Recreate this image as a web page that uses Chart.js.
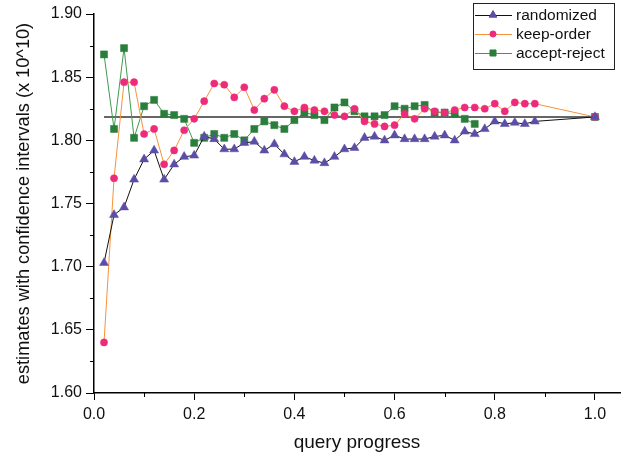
<!DOCTYPE html>
<html>
<head>
<meta charset="utf-8">
<script src="https://cdn.jsdelivr.net/npm/chart.js@4/dist/chart.umd.min.js"></script>
<style>
  html, body { margin: 0; padding: 0; background: #fff; }
  #wrap { width: 628px; height: 454px; position: relative; }
</style>
</head>
<body>
<div id="wrap"><canvas id="estChart" width="628" height="454"></canvas></div>
<script>
// query progress (fraction of queries processed)
const progress = [0.02, 0.04, 0.06, 0.08, 0.10, 0.12, 0.14, 0.16, 0.18, 0.20,
    0.22, 0.24, 0.26, 0.28, 0.30, 0.32, 0.34, 0.36, 0.38, 0.40,
    0.42, 0.44, 0.46, 0.48, 0.50, 0.52, 0.54, 0.56, 0.58, 0.60,
    0.62, 0.64, 0.66, 0.68, 0.70, 0.72, 0.74, 0.76, 0.78, 0.80,
    0.82, 0.84, 0.86, 0.88, 1.00];

const randomized = [1.703, 1.741, 1.747, 1.769, 1.785, 1.792, 1.769, 1.781, 1.787, 1.788,
    1.803, 1.801, 1.793, 1.793, 1.798, 1.799, 1.792, 1.797, 1.789, 1.783,
    1.787, 1.784, 1.782, 1.787, 1.793, 1.794, 1.802, 1.803, 1.800, 1.804,
    1.801, 1.801, 1.801, 1.803, 1.804, 1.800, 1.807, 1.805, 1.809, 1.815,
    1.813, 1.814, 1.813, 1.815, 1.8185];

const keepOrder = [1.640, 1.770, 1.846, 1.846, 1.805, 1.809, 1.781, 1.792, 1.808, 1.817,
    1.831, 1.845, 1.844, 1.834, 1.842, 1.824, 1.833, 1.840, 1.827, 1.823,
    1.826, 1.824, 1.823, 1.820, 1.819, 1.825, 1.815, 1.813, 1.811, 1.812,
    1.821, 1.817, 1.825, 1.823, 1.822, 1.824, 1.826, 1.826, 1.825, 1.829,
    1.823, 1.830, 1.829, 1.829, 1.8185];

const acceptReject = [1.868, 1.809, 1.873, 1.802, 1.827, 1.832, 1.821, 1.820, 1.817, 1.798,
    1.802, 1.805, 1.802, 1.805, 1.800, 1.809, 1.815, 1.812, 1.809, 1.816,
    1.822, 1.820, 1.816, 1.826, 1.830, 1.823, 1.819, 1.819, 1.820, 1.827,
    1.825, 1.827, 1.828, 1.822, 1.822, 1.821, 1.817, 1.813, null, null,
    null, null, null, null, 1.8185];

// exact value line
const exactX = [0.02, 1.00];
const exactValue = 1.8185;

const xTicks = [0, 0.2, 0.4, 0.6, 0.8, 1.0];
const xMinorTicks = [0.1, 0.3, 0.5, 0.7, 0.9];
const yMinorTicks = [1.625, 1.675, 1.725, 1.775, 1.825, 1.875];

const FONT = "'Liberation Sans', Arial, sans-serif";

const toPoints = (xs, ys) => xs.map((x, i) => ({ x: x, y: ys[i] }));

const series = [
    { label: 'randomized', data: randomized, line: '#111111', mark: '#5b4ea6', style: 'triangle', radius: 5.2 },
    { label: 'keep-order', data: keepOrder, line: '#f7923a', mark: '#ee2b7b', style: 'circle', radius: 3.6 },
    { label: 'accept-reject', data: acceptReject, line: '#3f9a50', mark: '#2b7d3c', style: 'rect', radius: 5 }
];

const datasets = series.map((s) => ({
    label: s.label,
    data: toPoints(progress, s.data),
    borderColor: s.line,
    borderWidth: 1,
    backgroundColor: s.mark,
    pointBackgroundColor: s.mark,
    pointBorderColor: s.mark,
    pointBorderWidth: 0.5,
    pointStyle: s.style,
    pointRadius: s.radius,
    spanGaps: false,
    tension: 0
}));

datasets.push({
    label: 'exact',
    data: exactX.map((x) => ({ x: x, y: exactValue })),
    borderColor: '#333333',
    borderWidth: 1.6,
    pointRadius: 0,
    order: 10
});

// minor ticks + boxed legend with line-and-marker keys
const extras = {
    id: 'extras',
    afterDraw(chart) {
        const ctx = chart.ctx;
        const xs = chart.scales.x;
        const ys = chart.scales.y;
        ctx.save();
        ctx.strokeStyle = '#000';
        ctx.lineWidth = 1;
        xMinorTicks.forEach((v) => {
            const px = Math.round(xs.getPixelForValue(v)) + 0.5;
            ctx.beginPath();
            ctx.moveTo(px, ys.bottom);
            ctx.lineTo(px, ys.bottom + 4);
            ctx.stroke();
        });
        yMinorTicks.forEach((v) => {
            const py = Math.round(ys.getPixelForValue(v)) + 0.5;
            ctx.beginPath();
            ctx.moveTo(xs.left - 4, py);
            ctx.lineTo(xs.left, py);
            ctx.stroke();
        });

        // legend
        const bx = 473, by = 3, bw = 141, bh = 66;
        ctx.fillStyle = '#fff';
        ctx.fillRect(bx, by, bw, bh);
        ctx.strokeStyle = '#222';
        ctx.lineWidth = 1;
        ctx.strokeRect(bx + 0.5, by + 0.5, bw, bh);
        ctx.font = '15.5px ' + FONT;
        ctx.textBaseline = 'middle';
        ctx.textAlign = 'left';
        series.forEach((s, i) => {
            const y = 15 + i * 19;
            ctx.strokeStyle = s.line;
            ctx.lineWidth = 1;
            ctx.beginPath();
            ctx.moveTo(bx + 2, y + 0.5);
            ctx.lineTo(bx + 39, y + 0.5);
            ctx.stroke();
            ctx.fillStyle = s.mark;
            ctx.strokeStyle = s.mark;
            Chart.helpers.drawPoint(ctx, { pointStyle: s.style, radius: s.radius * 0.85, borderWidth: 0.5 }, bx + 20, y);
            ctx.fillStyle = '#111';
            ctx.fillText(s.label, bx + 43, y + 1);
        });
        ctx.restore();
    }
};

new Chart(document.getElementById('estChart'), {
    type: 'line',
    data: { datasets: datasets },
    plugins: [extras],
    options: {
        responsive: false,
        animation: false,
        layout: { padding: { top: 14, right: 8, left: 0, bottom: 0 } },
        plugins: {
            legend: { display: false },
            tooltip: { enabled: false }
        },
        scales: {
            x: {
                type: 'linear',
                min: 0,
                max: 1.05,
                afterFit: (scale) => { scale.height = 61; },
                afterBuildTicks: (scale) => { scale.ticks = xTicks.map((v) => ({ value: v })); },
                border: { display: true, color: '#000', width: 1.5 },
                grid: { drawOnChartArea: false, drawTicks: true, tickLength: 7, tickColor: '#000', tickWidth: 1 },
                ticks: {
                    padding: 5,
                    color: '#111',
                    font: { family: FONT, size: 16 },
                    maxRotation: 0,
                    callback: (v) => v.toFixed(1)
                },
                title: {
                    display: true,
                    text: 'query progress',
                    color: '#111',
                    font: { family: FONT, size: 19 },
                    padding: { top: 6, bottom: 0 }
                }
            },
            y: {
                type: 'linear',
                min: 1.60,
                max: 1.90,
                afterFit: (scale) => { scale.width = 94; },
                border: { display: true, color: '#000', width: 1.5 },
                grid: { drawOnChartArea: false, drawTicks: true, tickLength: 8, tickColor: '#000', tickWidth: 1 },
                ticks: {
                    stepSize: 0.05,
                    padding: 4,
                    color: '#111',
                    font: { family: FONT, size: 16 },
                    callback: (v) => v.toFixed(2)
                },
                title: {
                    display: true,
                    text: 'estimates with confidence intervals (x 10^10)',
                    color: '#111',
                    font: { family: FONT, size: 18.2 },
                    padding: { top: 13, bottom: 0 }
                }
            }
        }
    }
});
</script>
</body>
</html>
